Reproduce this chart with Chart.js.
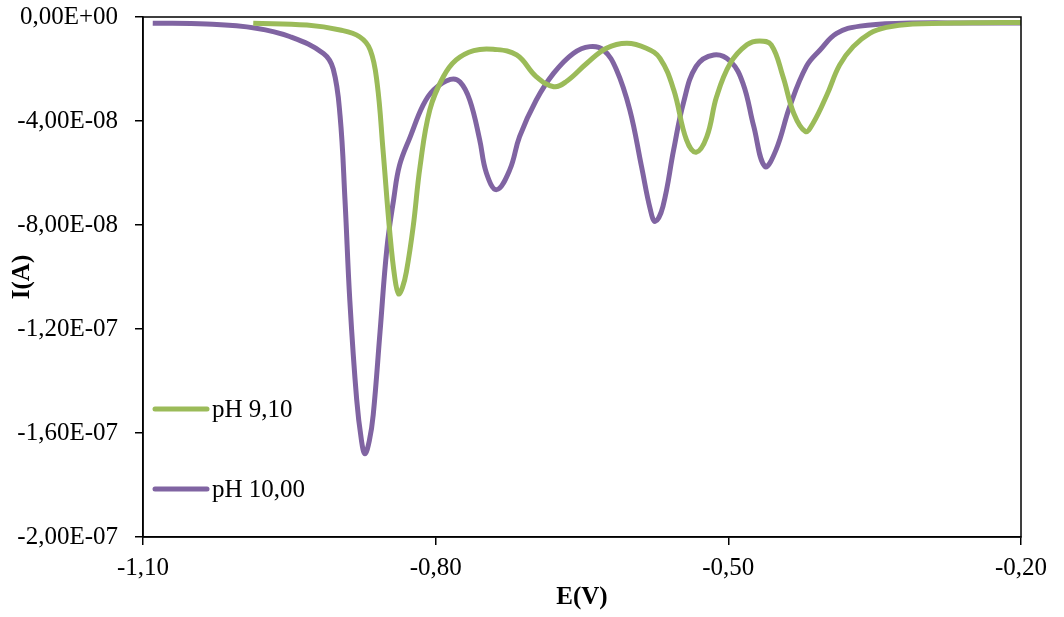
<!DOCTYPE html>
<html>
<head>
<meta charset="utf-8">
<title>I(A) vs E(V)</title>
<script src="https://cdn.jsdelivr.net/npm/chart.js@4.4.1/dist/chart.umd.min.js"></script>
<style>
  html, body { margin: 0; padding: 0; background: #fff; }
  canvas { display: block; }
</style>
</head>
<body>
<canvas id="graph" width="1064" height="617"></canvas>
<script>
// pH 9,10 (green)
const ePH910 = [-0.987, -0.932, -0.898, -0.878, -0.867, -0.860, -0.854, -0.847, -0.842, -0.838,
  -0.834, -0.830, -0.823, -0.816, -0.806, -0.792, -0.779, -0.761, -0.741, -0.717,
  -0.697, -0.679, -0.666, -0.645, -0.625, -0.604, -0.584, -0.570, -0.556, -0.543,
  -0.533, -0.522, -0.512, -0.498, -0.481, -0.468, -0.456, -0.444, -0.433, -0.421,
  -0.413, -0.399, -0.386, -0.372, -0.355, -0.338, -0.311, -0.250, -0.200]
const iPH910 = [-2.4e-9, -3.1e-9, -5.0e-9, -7.6e-9, -12.7e-9, -25.5e-9, -51e-9, -83e-9, -100e-9, -106.5e-9,
  -104e-9, -98e-9, -80.5e-9, -57.5e-9, -35.7e-9, -22.9e-9, -16.5e-9, -12.9e-9, -12.4e-9, -14.6e-9,
  -22.9e-9, -26.8e-9, -24.8e-9, -17.8e-9, -12.0e-9, -10.1e-9, -12.0e-9, -15.9e-9, -28e-9, -47.2e-9,
  -52e-9, -46e-9, -30.6e-9, -17.8e-9, -10.7e-9, -9.2e-9, -10.7e-9, -22.9e-9, -37e-9, -44e-9,
  -40.8e-9, -30e-9, -18.5e-9, -11.4e-9, -6.3e-9, -4.0e-9, -2.7e-9, -2.2e-9, -2.1e-9]

// pH 10,00 (purple)
const ePH1000 = [-1.090, -1.035, -0.984, -0.949, -0.915, -0.905, -0.898, -0.893, -0.888, -0.881,
  -0.876, -0.8725, -0.868, -0.864, -0.857, -0.850, -0.843, -0.837, -0.826, -0.813,
  -0.802, -0.785, -0.775, -0.765, -0.755, -0.748, -0.7375, -0.724, -0.714, -0.697,
  -0.679, -0.659, -0.642, -0.628, -0.615, -0.601, -0.589, -0.580, -0.575, -0.567,
  -0.556, -0.546, -0.533, -0.515, -0.498, -0.485, -0.474, -0.4625, -0.451, -0.437,
  -0.420, -0.406, -0.389, -0.365, -0.321, -0.250, -0.200]
const iPH1000 = [-2.4e-9, -2.7e-9, -4.3e-9, -7.6e-9, -14e-9, -20e-9, -38e-9, -70e-9, -109e-9, -147e-9,
  -163e-9, -168e-9, -163e-9, -153e-9, -121e-9, -89e-9, -70e-9, -57e-9, -46e-9, -34e-9,
  -28e-9, -24e-9, -25e-9, -32e-9, -47e-9, -60e-9, -66.4e-9, -58.7e-9, -46e-9, -32e-9,
  -21.6e-9, -14e-9, -11.4e-9, -12.7e-9, -20e-9, -35.7e-9, -57.5e-9, -74e-9, -78.6e-9, -72.8e-9,
  -51e-9, -33e-9, -19e-9, -14.6e-9, -17e-9, -25.5e-9, -42e-9, -57.5e-9, -51e-9, -34.4e-9,
  -19e-9, -12.7e-9, -6.3e-9, -3.5e-9, -2.4e-9, -2.3e-9, -2.3e-9]

const xTicks = [-1.10, -0.80, -0.50, -0.20]
const yTicks = [0, -4e-8, -8e-8, -1.2e-7, -1.6e-7, -2e-7]

const seriesNames = ['pH 9,10', 'pH 10,00']
const seriesColors = ['#9BBB59', '#8064A2']

const FONT = '"Liberation Serif", "Times New Roman", serif'

function toPoints(xs, ys) {
  return xs.map((x, i) => ({ x: x, y: ys[i] }))
}

// 0,00E+00 style labels
function sciLabel(v) {
  const parts = Number(v).toExponential(2).split('e')
  const exp = parseInt(parts[1], 10)
  const sign = exp < 0 ? '-' : '+'
  return parts[0].replace('.', ',') + 'E' + sign + String(Math.abs(exp)).padStart(2, '0')
}

// frame round the plot area (top and right sides)
const frame = {
  id: 'frame',
  afterDraw(chart) {
    const { ctx, chartArea: a } = chart
    ctx.save()
    ctx.strokeStyle = '#000'
    ctx.lineWidth = 1.5
    ctx.strokeRect(a.left, a.top, a.right - a.left, a.bottom - a.top)
    ctx.restore()
  }
}

// legend drawn inside the plot area, lower left
const insideLegend = {
  id: 'insideLegend',
  afterDraw(chart) {
    const { ctx, chartArea: a } = chart
    const rows = [a.bottom - 128, a.bottom - 48]
    ctx.save()
    chart.data.datasets.forEach((ds, i) => {
      const y = rows[i]
      ctx.strokeStyle = ds.borderColor
      ctx.lineWidth = 5
      ctx.lineCap = 'round'
      ctx.beginPath()
      ctx.moveTo(a.left + 12, y)
      ctx.lineTo(a.left + 64, y)
      ctx.stroke()
      ctx.fillStyle = '#000'
      ctx.font = '25px ' + FONT
      ctx.textBaseline = 'middle'
      ctx.fillText(ds.label, a.left + 69, y + 1)
    })
    ctx.restore()
  }
}

const datasets = [
  {
    label: seriesNames[0],
    data: toPoints(ePH910, iPH910),
    borderColor: seriesColors[0],
    borderWidth: 5,
    pointRadius: 0,
    tension: 0.4,
    fill: false
  },
  {
    label: seriesNames[1],
    data: toPoints(ePH1000, iPH1000),
    borderColor: seriesColors[1],
    borderWidth: 5,
    pointRadius: 0,
    tension: 0.4,
    fill: false
  }
]

const cfg = {
  type: 'line',
  data: { datasets: datasets },
  options: {
    responsive: false,
    animation: false,
    layout: { padding: { top: 17, right: 43, bottom: 0, left: 0 } },
    plugins: {
      legend: { display: false },
      tooltip: { enabled: false }
    },
    scales: {
      x: {
        type: 'linear',
        min: -1.1,
        max: -0.2,
        afterBuildTicks: (scale) => { scale.ticks = xTicks.map(v => ({ value: v })) },
        afterFit: (scale) => { scale.height = 80 },
        border: { color: '#000', width: 1.5 },
        grid: { drawOnChartArea: false, drawTicks: true, tickLength: 8, color: '#000', lineWidth: 1.5 },
        ticks: {
          color: '#000',
          font: { family: FONT, size: 25 },
          padding: 8,
          maxRotation: 0,
          callback: (v) => Number(v).toFixed(2).replace('.', ',')
        },
        title: {
          display: true,
          text: 'E(V)',
          color: '#000',
          font: { family: FONT, size: 25, weight: 'bold' },
          padding: { top: 0, bottom: 4 }
        }
      },
      y: {
        type: 'linear',
        min: -2e-7,
        max: 0,
        afterBuildTicks: (scale) => { scale.ticks = yTicks.map(v => ({ value: v })) },
        afterFit: (scale) => {
          scale.width = 143
          scale.paddingTop = 0
          scale.paddingBottom = 0
        },
        border: { color: '#000', width: 1.5 },
        grid: { drawOnChartArea: false, drawTicks: true, tickLength: 8, color: '#000', lineWidth: 1.5 },
        ticks: {
          color: '#000',
          font: { family: FONT, size: 25 },
          padding: 17,
          callback: (v) => sciLabel(v)
        },
        title: {
          display: true,
          text: 'I(A)',
          color: '#000',
          font: { family: FONT, size: 25, weight: 'bold' },
          padding: { top: 8, bottom: 0 }
        }
      }
    }
  },
  plugins: [frame, insideLegend]
}

new Chart(document.querySelector('#graph'), cfg)
</script>
</body>
</html>
